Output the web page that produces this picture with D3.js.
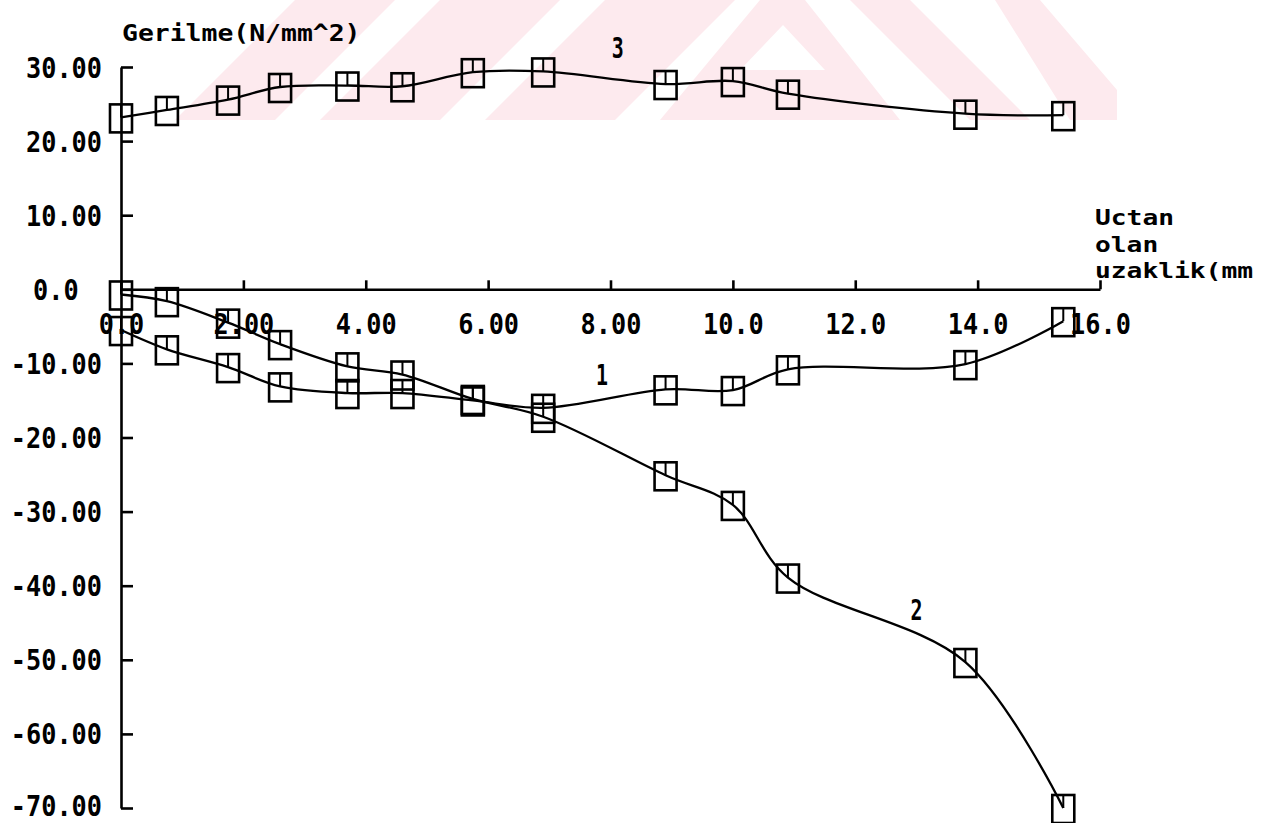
<!DOCTYPE html>
<html>
<head>
<meta charset="utf-8">
<script src="https://cdn.jsdelivr.net/npm/d3@7"></script>
<style>
  html, body { margin: 0; padding: 0; background: #fff; }
  svg { display: block; }
  text { font-family: "DejaVu Sans Mono", "Liberation Mono", monospace; font-weight: bold; fill: #000; }
</style>
</head>
<body>
<svg id="chart" width="1274" height="823"></svg>
<script>
// Distance from the edge (mm) at which stresses were measured
const xValues = [0, 0.75, 1.75, 2.6, 3.7, 4.6, 5.75, 6.9, 8.9, 10.0, 10.9, 13.8, 15.4];
// Stress (N/mm^2) for the three curves
const series1 = [-5.5, -8.1, -10.5, -13.1, -14.0, -14.0, -15.0, -16.0, -13.5, -13.6, -10.8, -10.1, -4.3];
const series2 = [-0.7, -1.6, -4.5, -7.4, -10.4, -11.5, -14.8, -17.2, -25.1, -29.1, -38.9, -50.3, -70.0];
const series3 = [23.2, 24.2, 25.6, 27.3, 27.5, 27.4, 29.3, 29.4, 27.7, 28.1, 26.4, 23.7, 23.5];
const seriesNames = ["1", "2", "3"];

const xTicks = [0, 2, 4, 6, 8, 10, 12, 14, 16];
const xTickLabels = ["0.0", "2.00", "4.00", "6.00", "8.00", "10.0", "12.0", "14.0", "16.0"];
const yTicks = [30, 20, 10, 0, -10, -20, -30, -40, -50, -60, -70];
const yTickLabels = ["30.00", "20.00", "10.00", "0.0", "-10.00", "-20.00", "-30.00", "-40.00", "-50.00", "-60.00", "-70.00"];

const yTitle = "Gerilme(N/mm^2)";
const xTitleLines = ["Uctan", "olan", "uzaklik(mm"];

const svg = d3.select("#chart");

// faint pink stamp printed behind the top of the sheet
const stamp = svg.append("g").attr("fill", "#fdeaee");
const stampBands = [
  [[295, 0], [395, 0], [275, 120], [175, 120]],
  [[440, 0], [560, 0], [440, 120], [320, 120]],
  [[605, 0], [735, 0], [615, 120], [485, 120]],
  [[760, 0], [805, 0], [900, 120], [660, 120]],
  [[850, 0], [910, 0], [1030, 120], [970, 120]],
  [[995, 0], [1040, 0], [1117, 90], [1117, 120], [1070, 120]]
];
stamp.selectAll("polygon")
  .data(stampBands)
  .join("polygon")
  .attr("points", d => d.map(p => p.join(",")).join(" "));
svg.append("polygon")
  .attr("points", "783,25 825,70 740,70")
  .attr("fill", "#fff");

const x = d3.scaleLinear().domain([0, 16]).range([121, 1100]);
const y = d3.scaleLinear().domain([-70, 30]).range([808, 67]);

const CHAR_W = 15.2;   // narrow plotter-style lettering

// ---- y axis (ticks point inward) ----
const yAxis = d3.axisLeft(y)
  .tickValues(yTicks)
  .tickFormat((d, i) => yTickLabels[i])
  .tickSizeInner(-12)
  .tickSizeOuter(0)
  .tickPadding(19);

const gy = svg.append("g").attr("transform", `translate(${x(0)},0)`).call(yAxis);
gy.select(".domain").attr("stroke", "#000").attr("stroke-width", 2.6);
gy.selectAll(".tick line").attr("stroke", "#000").attr("stroke-width", 2.6);
gy.selectAll(".tick text")
  .attr("font-size", 28)
  .attr("font-family", null)
  .attr("dy", d => d === -70 ? "0.27em" : "0.36em")
  .attr("textLength", d => yTickLabels[yTicks.indexOf(d)].length * CHAR_W)
  .attr("lengthAdjust", "spacingAndGlyphs")
  .each(function (d) {
    if (d === 0) {
      d3.select(this).attr("text-anchor", "start").attr("x", 33 - x(0));
    }
  });

// ---- x axis drawn along y = 0, ticks point upward ----
const xAxis = d3.axisBottom(x)
  .tickValues(xTicks)
  .tickFormat((d, i) => xTickLabels[i])
  .tickSizeInner(-9)
  .tickSizeOuter(0)
  .tickPadding(0);

const gx = svg.append("g").attr("transform", `translate(0,${y(0)})`).call(xAxis);
gx.select(".domain").attr("stroke", "#000").attr("stroke-width", 2.6);
gx.selectAll(".tick line").attr("stroke", "#000").attr("stroke-width", 2.6);
gx.selectAll(".tick text")
  .attr("font-size", 28)
  .attr("font-family", null)
  .attr("y", 45)
  .attr("dy", 0)
  .attr("textLength", d => xTickLabels[xTicks.indexOf(d)].length * CHAR_W)
  .attr("lengthAdjust", "spacingAndGlyphs");

// ---- axis titles ----
svg.append("text")
  .attr("x", 122).attr("y", 41)
  .attr("font-size", 23)
  .attr("textLength", yTitle.length * 15.9)
  .attr("lengthAdjust", "spacingAndGlyphs")
  .text(yTitle);

svg.append("g").selectAll("text")
  .data(xTitleLines)
  .join("text")
  .attr("x", 1095)
  .attr("y", (d, i) => 225 + i * 26.5)
  .attr("font-size", 22)
  .attr("textLength", d => d.length * 15.8)
  .attr("lengthAdjust", "spacingAndGlyphs")
  .text(d => d);

// ---- curves ----
const allSeries = [series1, series2, series3].map((vals, k) => ({
  name: seriesNames[k],
  points: xValues.map((xv, i) => [xv, vals[i]])
}));

const line = d3.line()
  .x(d => x(d[0]))
  .y(d => y(d[1]))
  .curve(d3.curveCatmullRom.alpha(0.5));

svg.append("g").selectAll("path")
  .data(allSeries)
  .join("path")
  .attr("d", d => line(d.points))
  .attr("fill", "none")
  .attr("stroke", "#000")
  .attr("stroke-width", 2.3)
  .attr("stroke-linejoin", "round");

// ---- square markers ----
const MW = 22, MH = 28;
const markers = svg.append("g");
allSeries.forEach(s => {
  const g = markers.append("g");
  g.selectAll("rect")
    .data(s.points)
    .join("rect")
    .attr("x", d => x(d[0]) - MW / 2)
    .attr("y", d => y(d[1]) - 13)
    .attr("width", MW)
    .attr("height", MH)
    .attr("fill", "none")
    .attr("stroke", "#000")
    .attr("stroke-width", 2.6);
  g.selectAll("line")
    .data(s.points)
    .join("line")
    .attr("x1", d => x(d[0]))
    .attr("x2", d => x(d[0]))
    .attr("y1", d => y(d[1]) - 13)
    .attr("y2", d => y(d[1]))
    .attr("stroke", "#000")
    .attr("stroke-width", 2);
});

// ---- curve numbers ----
const curveLabels = [
  { name: "3", xv: 8.12, yv: 31.2 },
  { name: "1", xv: 7.86, yv: -12.9 },
  { name: "2", xv: 13.0, yv: -44.6 }
];
svg.append("g").selectAll("text")
  .data(curveLabels)
  .join("text")
  .attr("x", d => x(d.xv))
  .attr("y", d => y(d.yv))
  .attr("text-anchor", "middle")
  .attr("font-size", 28)
  .attr("textLength", 12)
  .attr("lengthAdjust", "spacingAndGlyphs")
  .text(d => d.name);
</script>
</body>
</html>
